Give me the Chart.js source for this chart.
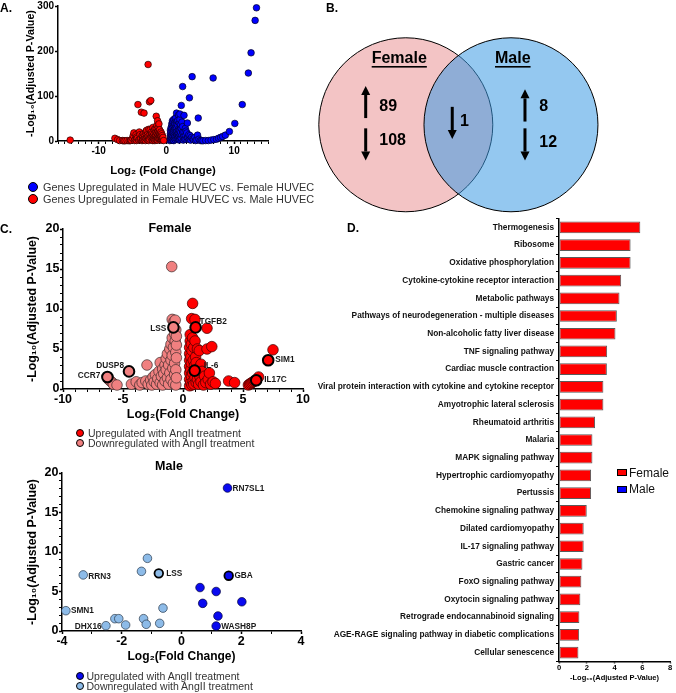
<!DOCTYPE html>
<html lang="en">
<head>
<meta charset="utf-8">
<title>HUVEC sex differences</title>
<script src="https://cdn.jsdelivr.net/npm/chart.js@4.4.1/dist/chart.umd.min.js"></script>
<style>
  html, body { margin: 0; padding: 0; background: #fff; }
  body { position: relative; width: 676px; height: 693px; overflow: hidden; font-family: "Liberation Sans", Arial, sans-serif; }
  canvas { position: absolute; }
  .txt { position: absolute; white-space: nowrap; }
  .panel { font-weight: bold; font-size: 12px; line-height: 12px; }
  .ttl { font-weight: bold; font-size: 12.5px; line-height: 13px; transform: translateX(-50%); }
  .legA { font-size: 10.9px; line-height: 11px; color: #333; }
  .legC { font-size: 10.5px; line-height: 10.5px; color: #333; }
  .legD { font-size: 12px; line-height: 12px; color: #111; }
  .dot { position: absolute; border-radius: 50%; border: 1px solid #000; box-sizing: border-box; }
  .box { position: absolute; border: 1px solid #000; box-sizing: border-box; }
</style>
</head>
<body>
<canvas id="chartD" width="376" height="488" style="left:300px;top:205px"></canvas>
<canvas id="chartA" width="280" height="184" style="left:0;top:0"></canvas>
<canvas id="chartB" width="396" height="215" style="left:280px;top:0"></canvas>
<canvas id="chartCf" width="340" height="215" style="left:0;top:215px"></canvas>
<canvas id="chartCm" width="340" height="233" style="left:0;top:460px"></canvas>

<div class="txt panel" style="left:0;top:2px">A.</div>
<div class="txt panel" style="left:326px;top:2px">B.</div>
<div class="txt panel" style="left:0;top:223px">C.</div>
<div class="txt panel" style="left:347px;top:222px">D.</div>

<div class="dot" style="left:28px;top:182px;width:10px;height:10px;background:#0000ff"></div>
<div class="txt legA" style="left:43px;top:181.5px">Genes Upregulated in Male HUVEC vs. Female HUVEC</div>
<div class="dot" style="left:28px;top:194px;width:10px;height:10px;background:#ff0000"></div>
<div class="txt legA" style="left:43px;top:193.5px">Genes Upregulated in Female HUVEC vs. Male HUVEC</div>

<div class="txt ttl" style="left:170px;top:221.5px">Female</div>
<div class="dot" style="left:76px;top:429px;width:8px;height:8px;background:#ff0000"></div>
<div class="txt legC" style="left:88px;top:428px">Upregulated with AngII treatment</div>
<div class="dot" style="left:76px;top:439px;width:8px;height:8px;background:#f08080"></div>
<div class="txt legC" style="left:88px;top:438px">Downregulated with AngII treatment</div>

<div class="txt ttl" style="left:169px;top:459.5px">Male</div>
<div class="dot" style="left:76px;top:672px;width:8px;height:8px;background:#0a0af0"></div>
<div class="txt legC" style="left:86.5px;top:670.5px">Upregulated with AngII treatment</div>
<div class="dot" style="left:76px;top:682px;width:8px;height:8px;background:#8dbbe8"></div>
<div class="txt legC" style="left:86.5px;top:680.5px">Downregulated with AngII treatment</div>

<div class="box" style="left:617px;top:469px;width:10px;height:7px;background:#ff0000"></div>
<div class="txt legD" style="left:629px;top:466.5px">Female</div>
<div class="box" style="left:617px;top:485.5px;width:10px;height:7px;background:#0000ff"></div>
<div class="txt legD" style="left:629px;top:483px">Male</div>

<script>
// ---------- data ----------
// Panel A: log2 fold change, -log10 adjusted p
const femaleUpA = [
  [-14.2, 2], [-7.6, 6], [-7.2, 3], [-6.9, 1], [-6.5, 1], [-6.3, 0.5], [-6.1, 0.5], [-5.8, 1],
  [-5.5, 0.5], [-5.3, 1], [-5.2, 2], [-5.0, 6], [-4.9, 12], [-4.8, 18], [-4.7, 1], [-4.6, 4],
  [-4.5, 14], [-4.4, 9], [-4.4, 1], [-4.3, 6], [-4.2, 81], [-4.1, 2], [-4.0, 20], [-3.9, 14],
  [-3.9, 3], [-3.8, 5], [-3.7, 64], [-3.6, 1], [-3.6, 12], [-3.5, 9], [-3.5, 2], [-3.4, 3],
  [-3.4, 16], [-3.3, 62], [-3.2, 12], [-3.2, 4], [-3.1, 18], [-3.1, 1], [-3.0, 6], [-3.0, 22],
  [-2.9, 24], [-2.9, 9], [-2.8, 2], [-2.8, 14], [-2.7, 170], [-2.7, 10], [-2.6, 26], [-2.6, 6],
  [-2.6, 1], [-2.5, 87], [-2.5, 4], [-2.4, 15], [-2.4, 25], [-2.3, 90], [-2.3, 8], [-2.2, 20],
  [-2.2, 11], [-2.1, 2], [-2.1, 16], [-2.0, 30], [-2.0, 12], [-2.0, 1], [-1.9, 5], [-1.9, 12],
  [-1.8, 24], [-1.8, 16], [-1.8, 3], [-1.7, 9], [-1.7, 1], [-1.7, 27], [-1.6, 20], [-1.6, 4],
  [-1.6, 12], [-1.5, 55], [-1.5, 28], [-1.5, 12], [-1.4, 35], [-1.4, 7], [-1.4, 18], [-1.4, 2],
  [-1.3, 45], [-1.3, 22], [-1.3, 2], [-1.3, 10], [-1.2, 30], [-1.2, 14], [-1.2, 22], [-1.2, 6],
  [-1.1, 18], [-1.1, 5], [-1.1, 38], [-1.0, 25], [-1.0, 10], [-1.0, 16], [-0.9, 15], [-0.9, 2],
  [-0.9, 8], [-0.9, 5], [-0.8, 8], [-0.8, 20], [-0.8, 12], [-0.7, 5], [-0.7, 16], [-0.6, 12],
  [-0.6, 6], [-0.6, 2], [-0.5, 3], [-0.5, 8], [-0.4, 1]
];
const maleUpA = [
  [0.5, 1], [0.6, 4], [0.6, 12], [0.6, 16], [0.6, 24], [0.7, 8], [0.7, 20], [0.7, 30], [0.7, 2],
  [0.8, 2], [0.8, 15], [0.8, 28], [0.8, 38], [0.8, 10], [0.9, 5], [0.9, 22], [0.9, 35], [0.9, 12],
  [0.9, 45], [1.0, 10], [1.0, 18], [1.0, 42], [1.0, 30], [1.0, 2], [1.1, 1], [1.1, 26], [1.1, 48],
  [1.1, 14], [1.1, 20], [1.2, 6], [1.2, 14], [1.2, 32], [1.2, 24], [1.2, 40], [1.3, 38], [1.3, 3],
  [1.3, 10], [1.3, 28], [1.3, 50], [1.4, 20], [1.4, 52], [1.4, 6], [1.4, 30], [1.5, 62], [1.5, 10],
  [1.5, 28], [1.5, 18], [1.5, 40], [1.6, 44], [1.6, 4], [1.6, 22], [1.6, 14], [1.7, 16], [1.7, 34],
  [1.7, 6], [1.7, 46], [1.8, 58], [1.8, 8], [1.8, 26], [1.8, 16], [1.9, 24], [1.9, 2], [1.9, 40],
  [1.9, 10], [2.0, 48], [2.0, 14], [2.0, 22], [2.0, 4], [2.0, 60], [2.1, 36], [2.1, 18], [2.1, 8],
  [2.2, 79], [2.2, 6], [2.2, 28], [2.3, 42], [2.3, 14], [2.4, 121], [2.4, 20], [2.4, 32], [2.5, 2],
  [2.5, 8], [2.6, 57], [2.6, 12], [2.6, 20], [2.7, 4], [2.8, 28], [2.8, 12], [2.9, 4], [2.9, 22],
  [3.0, 18], [3.1, 40], [3.1, 6], [3.2, 8], [3.3, 14], [3.4, 96], [3.4, 3], [3.5, 12], [3.6, 2],
  [3.7, 8], [3.8, 143], [3.9, 5], [4.0, 3], [4.2, 8], [4.3, 1], [4.5, 2], [4.6, 13], [4.7, 51],
  [4.8, 4], [5.0, 1], [5.2, 1], [5.4, 0.5], [5.8, 1], [6.2, 1], [6.6, 2], [6.9, 140], [7.0, 3],
  [7.4, 4], [7.7, 6], [8.0, 8], [8.3, 10], [8.7, 13], [9.3, 21], [10.1, 39], [11.2, 81],
  [12.1, 151], [12.5, 196], [13.1, 268], [13.3, 296]
];

// Panel B: Venn counts
const vennSets = ['Female', 'Male'];
const vennCounts = [89, 108, 1, 8, 12];
const vennDirs = ['up', 'down', 'down', 'up', 'down'];

// Panel C, female AngII response
const femaleDownC = [
  [-6.2, 1.2], [-6.05, 1.0], [-5.9, 0.8], [-5.8, 0.6], [-5.5, 0.5], [-4.3, 0.6], [-3.9, 0.9],
  [-3.6, 0.5], [-3.4, 0.8], [-3.1, 1.0], [-3.0, 3.0], [-2.9, 0.6], [-2.7, 1.1], [-2.6, 0.5],
  [-2.5, 1.5], [-2.4, 0.9], [-2.3, 1.8], [-2.2, 0.6], [-2.1, 1.3], [-2.0, 2.2], [-1.9, 3.3],
  [-1.9, 0.8], [-1.8, 1.6], [-1.7, 2.5], [-1.7, 0.5], [-1.6, 1.9], [-1.5, 3.0], [-1.5, 1.0],
  [-1.4, 2.4], [-1.4, 3.8], [-1.3, 1.4], [-1.3, 4.4], [-1.2, 3.0], [-1.2, 0.6], [-1.1, 5.0],
  [-1.1, 2.0], [-1.0, 3.6], [-1.0, 5.6], [-1.0, 1.2], [-0.94, 15.3], [-0.9, 8.7], [-0.9, 6.4],
  [-0.9, 4.2], [-0.85, 2.6], [-0.8, 5.2], [-0.8, 0.7], [-0.75, 8.4], [-0.7, 6.9], [-0.7, 3.2],
  [-0.7, 1.8], [-0.65, 8.6], [-0.65, 6.0], [-0.6, 4.6], [-0.6, 2.4], [-0.6, 0.5], [-0.55, 5.5],
  [-0.55, 3.9], [-0.55, 1.4], [-0.6, 7.4], [-0.55, 6.6]
];
const femaleUpC = [
  [0.55, 0.4], [0.55, 1.2], [0.55, 2.0], [0.55, 2.8], [0.55, 3.6], [0.55, 4.4], [0.55, 5.2],
  [0.6, 6.0], [0.6, 6.8], [0.65, 0.8], [0.65, 2.4], [0.65, 4.0], [0.7, 1.6], [0.7, 3.2],
  [0.7, 5.6], [0.72, 8.8], [0.75, 0.5], [0.75, 4.8], [0.8, 10.7], [0.8, 2.0], [0.8, 6.4],
  [0.85, 1.0], [0.85, 3.6], [0.9, 5.2], [0.9, 0.6], [0.95, 2.9], [1.0, 8.7], [1.0, 6.0],
  [1.0, 1.4], [1.05, 4.0], [1.1, 0.8], [1.1, 3.3], [1.15, 2.0], [1.2, 5.0], [1.2, 1.2],
  [1.3, 0.6], [1.3, 2.6], [1.36, 4.8], [1.4, 1.6], [1.5, 3.1], [1.5, 0.9], [1.6, 2.2],
  [1.7, 0.5], [1.8, 1.6], [1.9, 0.8], [2.0, 7.6], [2.0, 5.0], [2.1, 1.2], [2.2, 2.0], [2.3, 0.6],
  [2.4, 5.3], [2.5, 0.9], [2.7, 0.7], [3.8, 1.0], [4.3, 0.8], [5.45, 0.5], [5.55, 0.6],
  [5.65, 0.7], [5.75, 0.8], [5.85, 0.9], [5.95, 1.0], [6.3, 1.5], [7.5, 4.9]
];
const femaleGenes = ['LSS', 'TGFB2', 'DUSP8', 'CCR7', 'IL-6', 'SIM1', 'IL17C'];
const femaleGeneFC = [-0.8, 1.05, -4.5, -6.3, 0.97, 7.1, 6.1];
const femaleGeneP = [7.7, 7.7, 2.2, 1.5, 2.3, 3.6, 1.1];

// Panel C, male AngII response
const maleDownC = [
  [-3.87, 2.57], [-3.29, 7.1], [-2.53, 0.67], [-2.23, 1.56], [-2.1, 1.56], [-1.87, 0.76],
  [-1.34, 7.55], [-1.27, 1.56], [-1.18, 0.85], [-1.14, 9.2], [-0.73, 0.97], [-0.62, 2.9]
];
const maleUpC = [
  [1.54, 18.1], [0.62, 5.5], [1.16, 5.0], [0.71, 3.5], [2.02, 3.7], [1.22, 1.9], [1.16, 0.63]
];
const maleGenes = ['RN7SL1', 'GBA', 'LSS', 'RRN3', 'SMN1', 'DHX16', 'WASH8P'];
const maleGeneFC = [1.54, 1.58, -0.76, -3.29, -3.87, -2.53, 1.16];
const maleGeneP = [18.1, 7.0, 7.3, 7.1, 2.57, 0.67, 0.63];
const maleCircled = ['GBA', 'LSS'];

// Panel D: KEGG enrichment
const pathways = [
  'Thermogenesis', 'Ribosome', 'Oxidative phosphorylation', 'Cytokine-cytokine receptor interaction',
  'Metabolic pathways', 'Pathways of neurodegeneration - multiple diseases',
  'Non-alcoholic fatty liver disease', 'TNF signaling pathway', 'Cardiac muscle contraction',
  'Viral protein interaction with cytokine and cytokine receptor', 'Amyotrophic lateral sclerosis',
  'Rheumatoid arthritis', 'Malaria', 'MAPK signaling pathway', 'Hypertrophic cardiomyopathy',
  'Pertussis', 'Chemokine signaling pathway', 'Dilated cardiomyopathy', 'IL-17 signaling pathway',
  'Gastric cancer', 'FoxO signaling pathway', 'Oxytocin signaling pathway',
  'Retrograde endocannabinoid signaling', 'AGE-RAGE signaling pathway in diabetic complications',
  'Cellular senescence'
];
const femaleEnrich = [5.86, 5.16, 5.16, 4.48, 4.36, 4.17, 4.07, 3.47, 3.45, 3.2, 3.2, 2.6, 2.41,
  2.41, 2.31, 2.31, 2.0, 1.78, 1.78, 1.69, 1.61, 1.54, 1.47, 1.45, 1.4];

// ---------- helpers ----------
const FONT = '"Liberation Sans", Arial, sans-serif';
Chart.defaults.font.family = FONT;
Chart.defaults.color = '#000';
Chart.defaults.animation = false;
Chart.defaults.events = [];
Chart.defaults.plugins.legend.display = false;
Chart.defaults.plugins.tooltip.enabled = false;

function toPts(list) { return list.map(p => ({ x: p[0], y: p[1] })); }
function zipPts(xs, ys) { return xs.map((x, i) => ({ x: x, y: ys[i] })); }
function fixSize(size) {
  return function (axis) {
    if (axis.isHorizontal()) axis.height = size; else axis.width = size;
  };
}
function onStep(v, major) { return Math.abs(v / major - Math.round(v / major)) < 1e-6; }

function numAxis(o) {
  return {
    type: 'linear', min: o.min, max: o.max,
    afterFit: fixSize(o.size),
    ticks: {
      stepSize: o.step, autoSkip: false, maxRotation: 0,
      font: { size: o.fs, weight: 'bold', lineHeight: 1 },
      color: '#000', padding: o.pad,
      callback: v => (onStep(v, o.major) ? String(Math.round(v)) : '')
    },
    grid: {
      drawOnChartArea: false, drawTicks: true, tickLength: o.tick || 3, tickColor: '#000',
      tickWidth: c => (c.tick && onStep(c.tick.value, o.major) ? 1.5 : 1)
    },
    border: { color: '#000', width: 1.5 },
    title: {
      display: true, text: o.title, color: '#000',
      font: { size: o.tfs, weight: 'bold' },
      padding: { top: 4, bottom: o.tpb === undefined ? 4 : o.tpb }
    }
  };
}

// text next to labelled genes
const geneLabels = {
  id: 'geneLabels',
  afterDatasetsDraw(chart, args, opts) {
    const { ctx } = chart;
    const x = chart.scales.x, y = chart.scales.y;
    ctx.save();
    ctx.font = 'bold 8.3px ' + FONT;
    ctx.fillStyle = '#1a1a1a';
    ctx.textBaseline = 'middle';
    opts.names.forEach((n, i) => {
      const dx = opts.dx[i];
      ctx.textAlign = dx < 0 ? 'right' : 'left';
      ctx.fillText(n, x.getPixelForValue(opts.xs[i]) + dx, y.getPixelForValue(opts.ys[i]) + opts.dy[i]);
    });
    ctx.restore();
  }
};

// ---------- A ----------
new Chart(document.getElementById('chartA'), {
  type: 'scatter',
  data: {
    datasets: [
      { data: toPts(femaleUpA), pointBackgroundColor: '#ff0000', pointBorderColor: '#200000', pointBorderWidth: 0.7, pointRadius: 3.3, clip: false },
      { data: toPts(maleUpA), pointBackgroundColor: '#0000ff', pointBorderColor: '#000020', pointBorderWidth: 0.7, pointRadius: 3.3, clip: false }
    ]
  },
  options: {
    responsive: false,
    layout: { padding: { left: 21, top: 5, right: 12, bottom: 6 } },
    scales: {
      x: numAxis({ min: -16, max: 15, step: 1, major: 10, size: 37, fs: 10, pad: 2, title: 'Log\u2082 (Fold Change)', tfs: 11.4, tpb: 0 }),
      y: numAxis({ min: 0, max: 300, step: 100, major: 100, size: 37, fs: 10, pad: 1, title: '-Log\u2081\u2080(Adjusted P-Value)', tfs: 10.7 })
    }
  }
});

// ---------- B (Venn) ----------
const vennFill = ['#f3c4c5', 'rgba(60,155,228,0.55)'];
const vennOrder = [2, 1]; // male circle is painted over the female one
const vennCenterX = [0, 1.209];
const vennTitleX = [-0.075, 1.23], vennTitleY = 0.756;
const countX = [-0.305, -0.305, 0.623, 1.534, 1.534];
const countY = [0.205, -0.186, 0.036, 0.208, -0.201];
const arrowX = [-0.461, -0.461, 0.534, 1.37, 1.37];
const arrowY = [0.262, -0.226, 0.021, 0.222, -0.226];

function unitPx(chart) {
  const s = chart.scales.x;
  return s.getPixelForValue(1) - s.getPixelForValue(0);
}
function drawArrow(ctx, cx, cy, dir, len) {
  const s = dir === 'up' ? -1 : 1;
  const tip = cy + s * len / 2, tail = cy - s * len / 2, head = 9, hw = 4.5;
  ctx.lineWidth = 3;
  ctx.beginPath(); ctx.moveTo(cx, tail); ctx.lineTo(cx, tip - s * head); ctx.stroke();
  ctx.beginPath(); ctx.moveTo(cx, tip); ctx.lineTo(cx - hw, tip - s * head); ctx.lineTo(cx + hw, tip - s * head);
  ctx.closePath(); ctx.fill();
}
const vennText = {
  id: 'vennText',
  afterDatasetsDraw(chart) {
    const { ctx } = chart;
    const x = chart.scales.x, y = chart.scales.y;
    const u = unitPx(chart);
    ctx.save();
    ctx.fillStyle = '#000'; ctx.strokeStyle = '#000';
    ctx.font = 'bold 16px ' + FONT;
    ctx.textBaseline = 'middle';
    ctx.textAlign = 'center';
    vennSets.forEach((s, i) => {
      const px = x.getPixelForValue(vennTitleX[i]), py = y.getPixelForValue(vennTitleY);
      ctx.fillText(s, px, py);
      const w = ctx.measureText(s).width;
      ctx.fillRect(px - w / 2, py + 7, w, 1.6);
    });
    ctx.textAlign = 'left';
    vennCounts.forEach((c, i) => {
      ctx.fillText(String(c), x.getPixelForValue(countX[i]), y.getPixelForValue(countY[i]));
      drawArrow(ctx, x.getPixelForValue(arrowX[i]), y.getPixelForValue(arrowY[i]), vennDirs[i], u * 0.37);
    });
    ctx.restore();
  }
};
new Chart(document.getElementById('chartB'), {
  type: 'scatter',
  data: {
    datasets: vennSets.map((s, i) => ({
      label: s,
      order: vennOrder[i],
      data: [{ x: vennCenterX[i], y: 0 }],
      pointBackgroundColor: vennFill[i], pointBorderColor: '#000', pointBorderWidth: 1,
      pointRadius: c => unitPx(c.chart), clip: false
    }))
  },
  options: {
    responsive: false,
    layout: { padding: 0 },
    scales: {
      x: { type: 'linear', display: false, min: -1.446, max: 3.106 },
      y: { type: 'linear', display: false, min: -1.037, max: 1.434 }
    }
  },
  plugins: [vennText]
});

// ---------- C female ----------
new Chart(document.getElementById('chartCf'), {
  type: 'scatter',
  data: {
    datasets: [
      {
        data: zipPts(femaleGeneFC, femaleGeneP),
        pointBackgroundColor: c => (c.raw && c.raw.x < 0 ? '#f08080' : '#ff0000'),
        pointBorderColor: '#000', pointBorderWidth: 2, pointRadius: 5.3, clip: false
      },
      { data: toPts(femaleDownC), pointBackgroundColor: '#f08080', pointBorderColor: '#3a2a2a', pointBorderWidth: 0.7, pointRadius: 5.3, clip: false },
      { data: toPts(femaleUpC), pointBackgroundColor: '#ff0000', pointBorderColor: '#3a0000', pointBorderWidth: 0.7, pointRadius: 5.3, clip: false }
    ]
  },
  options: {
    responsive: false,
    layout: { padding: { left: 21, top: 14, right: 37, bottom: 3.5 } },
    scales: {
      x: numAxis({ min: -10, max: 10, step: 1, major: 5, size: 37.5, fs: 12.5, pad: 1.5, title: 'Log\u2082(Fold Change)', tfs: 12.5 }),
      y: numAxis({ min: 0, max: 20, step: 1, major: 5, size: 42, fs: 12.5, pad: 0.5, title: '-Log\u2081\u2080(Adjusted P-Value)', tfs: 12.3 })
    },
    plugins: {
      geneLabels: { names: femaleGenes, xs: femaleGeneFC, ys: femaleGeneP, dx: [-7, 4, -5, -7, 9, 7, 8], dy: [1, -6, -6, -1, -5, 0, 0] }
    }
  },
  plugins: [geneLabels]
});

// ---------- C male ----------
new Chart(document.getElementById('chartCm'), {
  type: 'scatter',
  data: {
    datasets: [
      {
        data: zipPts(maleGeneFC, maleGeneP).filter((p, i) => maleCircled.includes(maleGenes[i])),
        pointBackgroundColor: c => (c.raw && c.raw.x < 0 ? '#8dbbe8' : '#0a0af0'),
        pointBorderColor: '#000', pointBorderWidth: 1.8, pointRadius: 4.3, clip: false
      },
      { data: toPts(maleDownC), pointBackgroundColor: '#8dbbe8', pointBorderColor: '#2a3a4a', pointBorderWidth: 0.7, pointRadius: 4.3, clip: false },
      { data: toPts(maleUpC), pointBackgroundColor: '#0a0af0', pointBorderColor: '#00003a', pointBorderWidth: 0.7, pointRadius: 4.3, clip: false }
    ]
  },
  options: {
    responsive: false,
    layout: { padding: { left: 21, top: 13, right: 39, bottom: 24.8 } },
    scales: {
      x: numAxis({ min: -4, max: 4, step: 1, major: 2, size: 37.2, fs: 12.5, pad: 1.5, title: 'Log\u2082(Fold Change)', tfs: 12 }),
      y: numAxis({ min: 0, max: 20, step: 1, major: 5, size: 41, fs: 12.5, pad: 0.5, title: '-Log\u2081\u2080(Adjusted P-Value)', tfs: 12.3 })
    },
    plugins: {
      geneLabels: { names: maleGenes, xs: maleGeneFC, ys: maleGeneP, dx: [5, 5.7, 7.4, 5, 5, -4.3, 5], dy: [1, 0, 0, 1.7, 0, 1, 0.7] }
    }
  },
  plugins: [geneLabels]
});

// ---------- D ----------
new Chart(document.getElementById('chartD'), {
  type: 'bar',
  data: {
    labels: pathways,
    datasets: [{
      label: 'Female', data: femaleEnrich,
      backgroundColor: '#ff0000', borderColor: '#5a5a5a', borderWidth: 1, borderSkipped: false,
      barPercentage: 0.66, categoryPercentage: 1
    }]
  },
  options: {
    indexAxis: 'y',
    responsive: false,
    layout: { padding: { left: 0, top: 13.6, right: 6, bottom: 10.5 } },
    scales: {
      y: {
        type: 'category', afterFit: fixSize(259),
        ticks: { autoSkip: false, font: { size: 8.3, weight: 'bold', lineHeight: 1 }, color: '#111', padding: 2 },
        grid: { drawOnChartArea: false, tickLength: 3, tickColor: '#000', tickWidth: 1 },
        border: { color: '#000', width: 1.5 }
      },
      x: numAxis({ min: 0, max: 8, step: 2, major: 2, size: 21.1, fs: 7.6, pad: 0.5, tick: 2, title: '-Log\u2081\u2080(Adjusted P-Value)', tfs: 7.5, tpb: 0 })
    }
  }
});
</script>
</body>
</html>
